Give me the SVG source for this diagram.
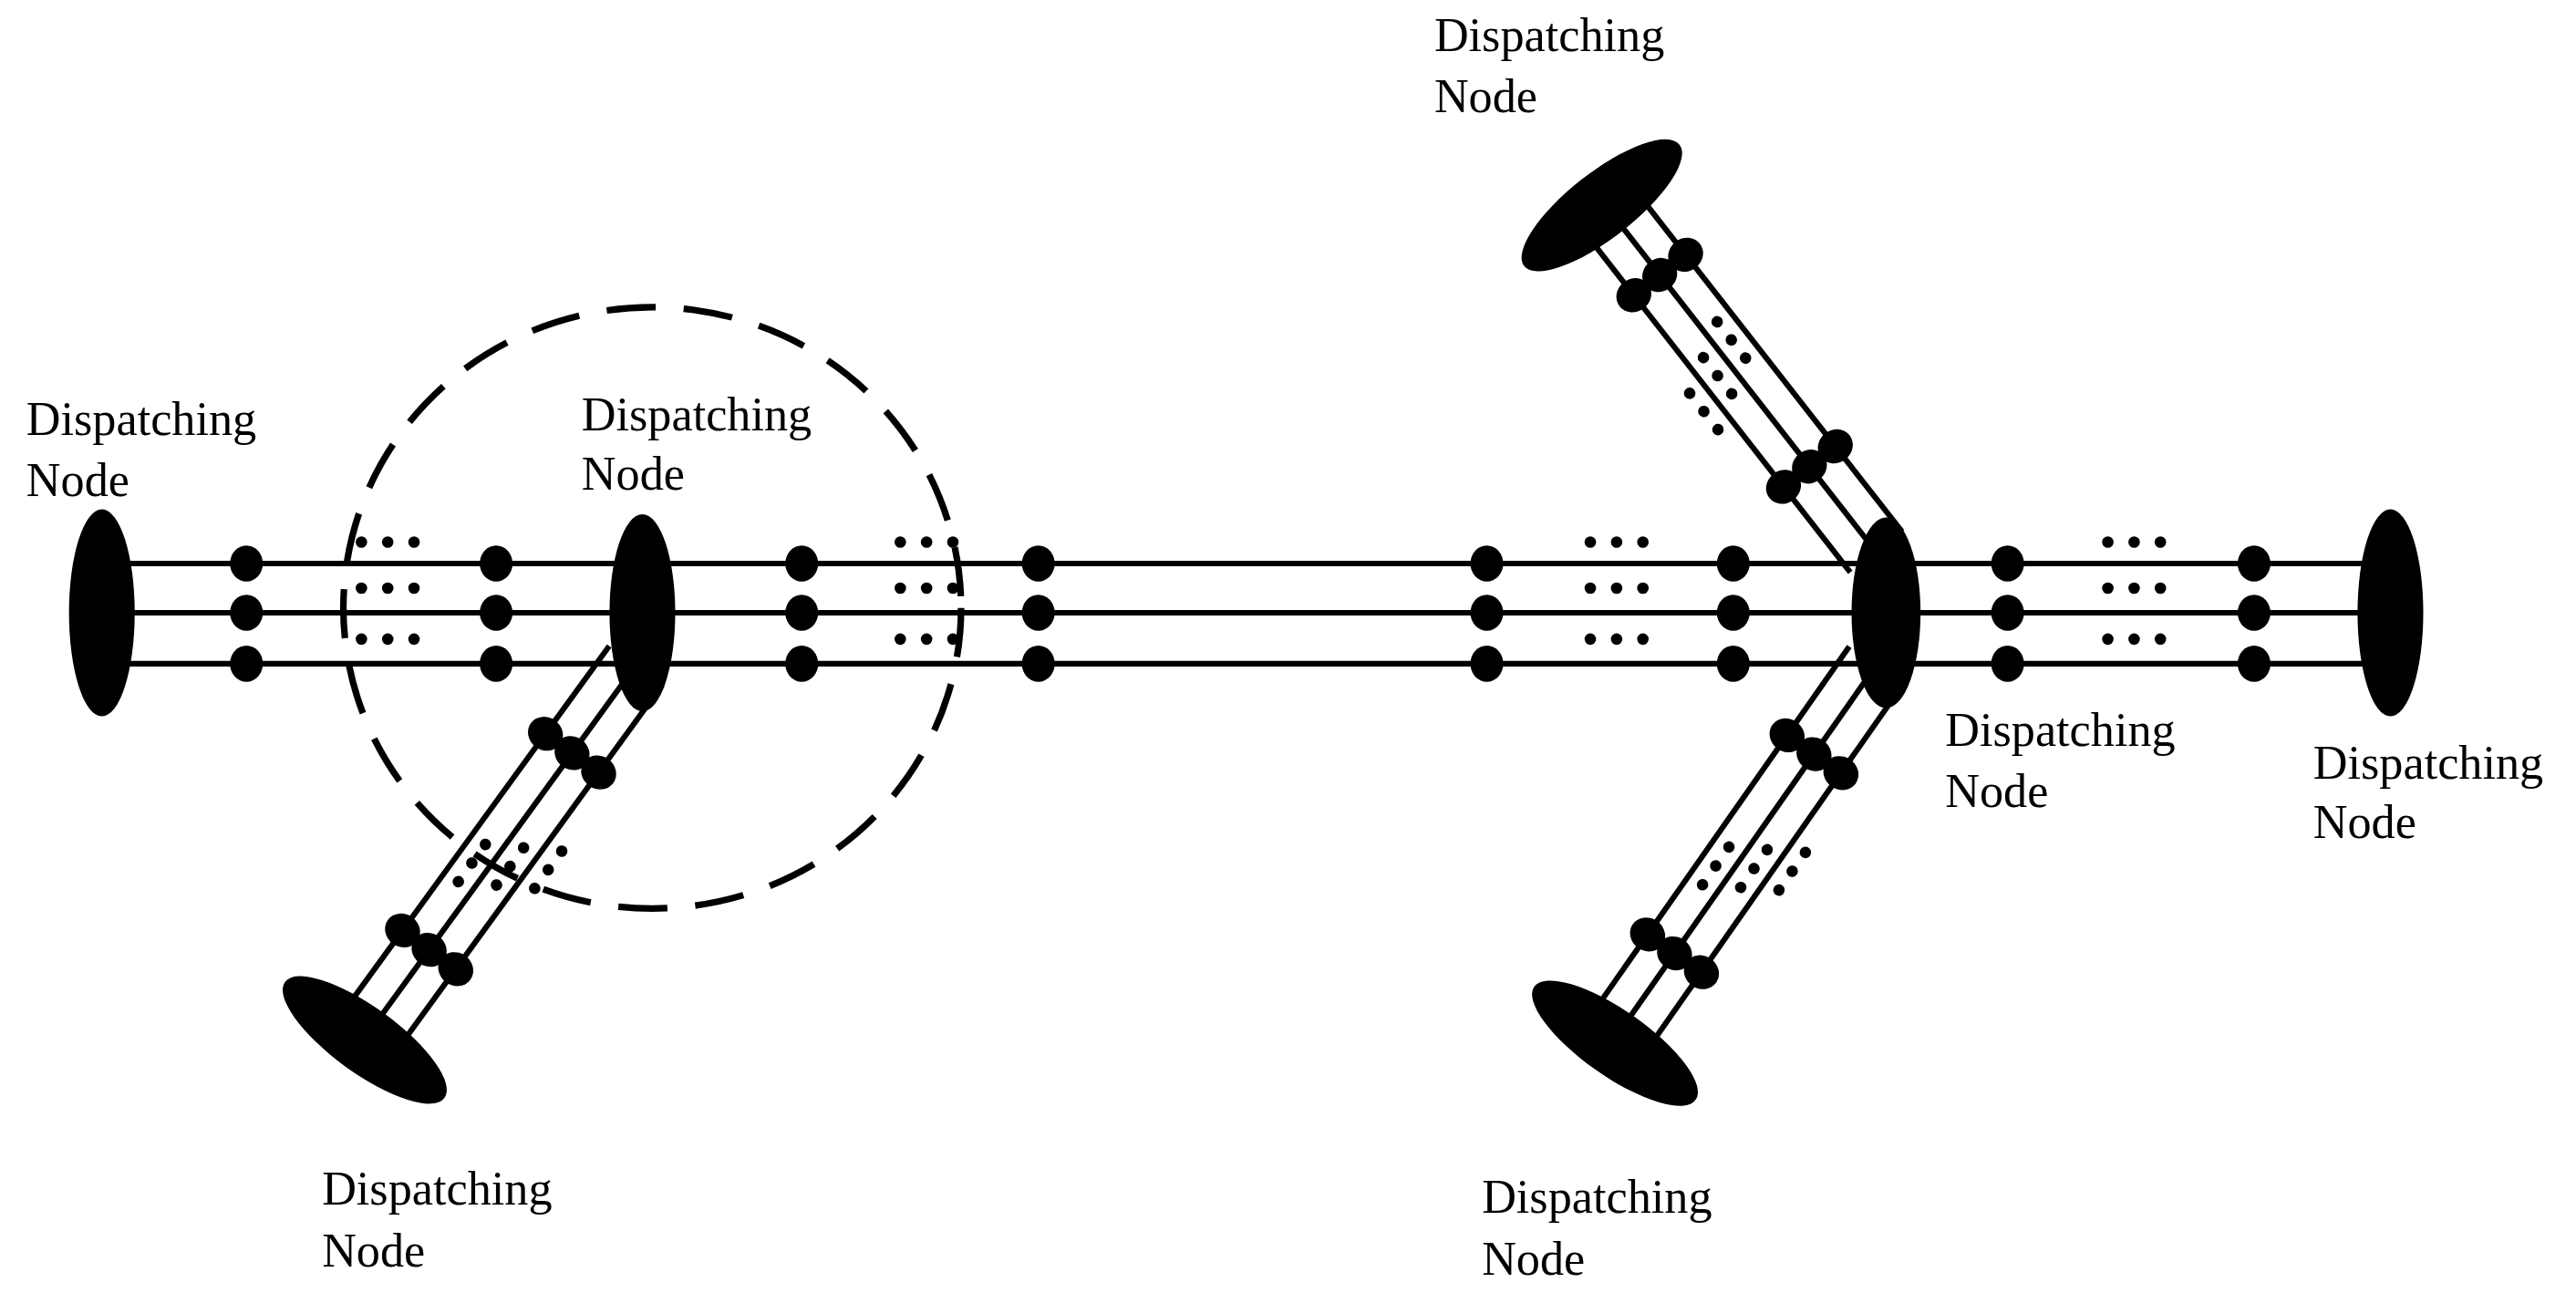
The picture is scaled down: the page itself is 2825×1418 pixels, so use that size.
<svg xmlns="http://www.w3.org/2000/svg" width="2825" height="1418" viewBox="0 0 2825 1418">
<style>
.ln{stroke:#000;stroke-width:3.4;fill:none}
.nd{fill:#000}
.bd{fill:#000}
.dt{fill:#000}
.lb{font-family:"Liberation Serif",serif;font-size:29px;fill:#000}
</style>
<defs>
<g id="beads"><ellipse class="bd" cx="0" cy="-30" rx="10" ry="11"/><ellipse class="bd" cx="0" cy="0" rx="10" ry="11"/><ellipse class="bd" cx="0" cy="31" rx="10" ry="11"/></g>
<g id="ell"><circle class="dt" cx="0" cy="-13" r="3.5"/><circle class="dt" cx="16" cy="-13" r="3.5"/><circle class="dt" cx="32" cy="-13" r="3.5"/><circle class="dt" cx="0" cy="15" r="3.5"/><circle class="dt" cx="16" cy="15" r="3.5"/><circle class="dt" cx="32" cy="15" r="3.5"/><circle class="dt" cx="0" cy="46" r="3.5"/><circle class="dt" cx="16" cy="46" r="3.5"/><circle class="dt" cx="32" cy="46" r="3.5"/></g>
<g id="branch">
<line class="ln" x1="0" y1="-20" x2="275" y2="-20"/><line class="ln" x1="0" y1="0" x2="275" y2="0"/><line class="ln" x1="0" y1="20" x2="275" y2="20"/>
<ellipse class="bd" cx="66" cy="-20" rx="10" ry="11"/><ellipse class="bd" cx="66" cy="0" rx="10" ry="11"/><ellipse class="bd" cx="66" cy="20" rx="10" ry="11"/>
<ellipse class="bd" cx="214" cy="-20" rx="10" ry="11"/><ellipse class="bd" cx="214" cy="0" rx="10" ry="11"/><ellipse class="bd" cx="214" cy="20" rx="10" ry="11"/>
<circle class="dt" cx="118" cy="-30" r="3.5"/><circle class="dt" cx="132" cy="-30" r="3.5"/><circle class="dt" cx="146" cy="-30" r="3.5"/>
<circle class="dt" cx="130" cy="-10" r="3.5"/><circle class="dt" cx="144" cy="-10" r="3.5"/><circle class="dt" cx="158" cy="-10" r="3.5"/>
<circle class="dt" cx="142" cy="10" r="3.5"/><circle class="dt" cx="156" cy="10" r="3.5"/><circle class="dt" cx="170" cy="10" r="3.5"/>
</g>
</defs>
<rect width="2825" height="1418" fill="#fff"/>
<g transform="scale(1.8017)">
<g id="connectors">
<line class="ln" x1="62" y1="343" x2="1455" y2="343"/>
<line class="ln" x1="62" y1="373" x2="1455" y2="373"/>
<line class="ln" x1="62" y1="404" x2="1455" y2="404"/>
<use href="#beads" x="150" y="373"/><use href="#beads" x="302" y="373"/>
<use href="#beads" x="488" y="373"/><use href="#beads" x="632" y="373"/>
<use href="#beads" x="905" y="373"/><use href="#beads" x="1055" y="373"/>
<use href="#beads" x="1222" y="373"/><use href="#beads" x="1372" y="373"/>
<use href="#ell" x="220" y="343"/><use href="#ell" x="548" y="343"/><use href="#ell" x="968" y="343"/><use href="#ell" x="1283" y="343"/>
<use href="#branch" transform="translate(387,405) rotate(126)"/>
<use href="#branch" transform="translate(1142,405) rotate(125)"/>
<use href="#branch" transform="translate(1142,336) rotate(-128)"/>
<ellipse cx="397" cy="370" rx="188" ry="183" fill="none" stroke="#000" stroke-width="4" stroke-dasharray="30 17"/>
</g>
<g id="node-left"><ellipse class="nd" cx="62" cy="373" rx="20" ry="63"/><text class="lb" x="16" y="265">Dispatching</text><text class="lb" x="16" y="302">Node</text></g>
<g id="node-mid"><ellipse class="nd" cx="391" cy="373" rx="20" ry="60"/><text class="lb" x="354" y="262">Dispatching</text><text class="lb" x="354" y="298">Node</text></g>
<g id="node-main"><ellipse class="nd" cx="1148" cy="373" rx="21" ry="58"/><text class="lb" x="1184" y="454">Dispatching</text><text class="lb" x="1184" y="491">Node</text></g>
<g id="node-right"><ellipse class="nd" cx="1455" cy="373" rx="20" ry="63"/><text class="lb" x="1408" y="474">Dispatching</text><text class="lb" x="1408" y="510">Node</text></g>
<g id="node-lowleft"><ellipse class="nd" cx="0" cy="0" rx="20" ry="60" transform="translate(222,633) rotate(126)"/><text class="lb" x="196" y="733">Dispatching</text><text class="lb" x="196" y="771">Node</text></g>
<g id="node-lowright"><ellipse class="nd" cx="0" cy="0" rx="20" ry="60" transform="translate(983,635) rotate(125)"/><text class="lb" x="902" y="738">Dispatching</text><text class="lb" x="902" y="776">Node</text></g>
<g id="node-top"><ellipse class="nd" cx="0" cy="0" rx="20" ry="60" transform="translate(975,125) rotate(-128)"/><text class="lb" x="873" y="31">Dispatching</text><text class="lb" x="873" y="68">Node</text></g>
</g>
</svg>
